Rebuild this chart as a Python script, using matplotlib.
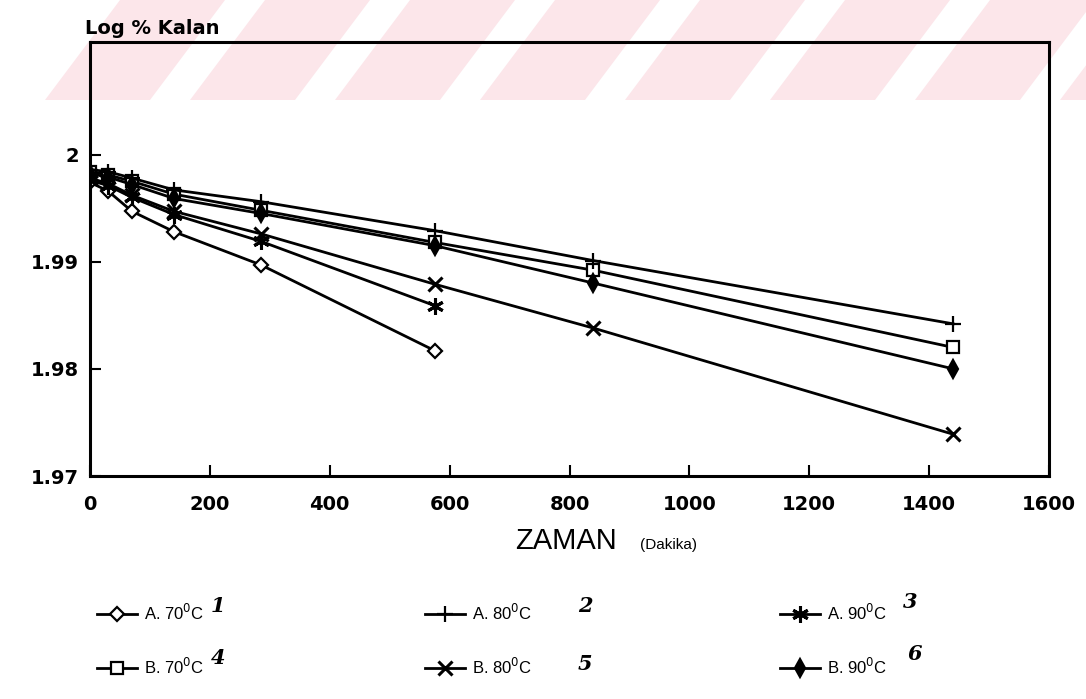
import matplotlib.pyplot as plt
from matplotlib.patches import Polygon

# sampling times (minutes)
t_long = [0, 30, 70, 140, 285, 575, 840, 1440]
t_short = [0, 30, 70, 140, 285, 575]

# log of % remaining
a70 = [1.9974, 1.9966, 1.9947, 1.9928, 1.9897, 1.9817]
a80 = [1.9986, 1.9984, 1.9978, 1.9967, 1.9956, 1.9929, 1.9901, 1.9842]
a90 = [1.9976, 1.9971, 1.9960, 1.9944, 1.9919, 1.9859]
b70 = [1.9984, 1.9981, 1.9975, 1.9963, 1.9948, 1.9918, 1.9892, 1.9820]
b80 = [1.9978, 1.9973, 1.9962, 1.9947, 1.9926, 1.9879, 1.9838, 1.9739]
b90 = [1.9982, 1.9979, 1.9972, 1.9959, 1.9945, 1.9915, 1.9880, 1.9800]

x_ticks = [0, 200, 400, 600, 800, 1000, 1200, 1400, 1600]
y_ticks = [1.97, 1.98, 1.99, 2.00]
y_ticklabels = ["1.97", "1.98", "1.99", "2"]

W, H = 1086, 699
fig = plt.figure(figsize=(W / 100, H / 100), dpi=100)

# faint diagonal stripes across the top of the page
for k in range(8):
    x0 = 120 + 145 * k
    pts = [(x0, 0), (x0 + 105, 0), (x0 + 30, 100), (x0 - 75, 100)]
    fig.patches.append(Polygon([(px / W, 1 - py / H) for px, py in pts],
                               closed=True, transform=fig.transFigure,
                               facecolor="#fce6ea", edgecolor="none", zorder=-5))

ax = fig.add_axes([90 / W, 1 - 476 / H, (1049 - 90) / W, (476 - 42) / H])
ax.patch.set_alpha(0)

series = [
    ("A. 70$^0$C", t_short, a70, dict(marker="D", ms=7, mfc="white", mew=1.6)),
    ("B. 70$^0$C", t_long, b70, dict(marker="s", ms=8, mfc="white", mew=1.6)),
    ("A. 80$^0$C", t_long, a80, dict(marker="+", ms=11, mew=1.6)),
    ("B. 80$^0$C", t_long, b80, dict(marker="x", ms=10, mew=2.2)),
    ("A. 90$^0$C", t_short, a90, dict(marker=(6, 2, 0), ms=12, mew=2.2)),
    ("B. 90$^0$C", t_long, b90, dict(marker="d", ms=9, mfc="black", mew=1.6)),
]
handles = []
for name, t, v, mk in series:
    h, = ax.plot(t, v, label=name, color="black", lw=2.0, **mk)
    handles.append(h)

ax.set_xlim(0, 1600)
ax.set_ylim(1.97, 2.0105)
ax.set_xticks(x_ticks)
ax.set_xticklabels([str(x) for x in x_ticks], fontsize=14, fontweight="bold")
ax.set_yticks(y_ticks)
ax.set_yticklabels(y_ticklabels, fontsize=14, fontweight="bold")
ax.tick_params(axis="x", direction="in", length=8, width=1.5, pad=14)
ax.tick_params(axis="y", direction="in", length=8, width=1.5, pad=8)
for s in ax.spines.values():
    s.set_linewidth(2.2)

fig.text(85 / W, 1 - 28 / H, "Log % Kalan", fontsize=14, fontweight="bold",
         va="center", ha="left")
fig.text(566 / W, 1 - 541 / H, "ZAMAN", fontsize=21, family="Liberation Sans",
         va="center", ha="center")
fig.text(640 / W, 1 - 545 / H, "(Dakika)", fontsize=11, family="Liberation Sans",
         va="center", ha="left")

# legend: three columns, two rows each
col_x = [82, 410, 765]
for i, cx in enumerate(col_x):
    fig.legend(handles[2 * i:2 * i + 2], [h.get_label() for h in handles[2 * i:2 * i + 2]],
               loc="upper left", bbox_to_anchor=(cx / W, 1 - 588 / H),
               frameon=False, handlelength=2.4, handletextpad=0.4,
               labelspacing=2.0, prop={"family": "Liberation Sans", "size": 12})

notes = [("1", 218, 606), ("2", 585, 606), ("3", 910, 602),
         ("4", 218, 658), ("5", 585, 664), ("6", 915, 654)]
for txt, px, py in notes:
    fig.text(px / W, 1 - py / H, txt, fontsize=15, fontweight="heavy",
             style="italic", family="DejaVu Serif", va="center", ha="center")

fig.savefig("out.png", dpi=100, facecolor="white")
